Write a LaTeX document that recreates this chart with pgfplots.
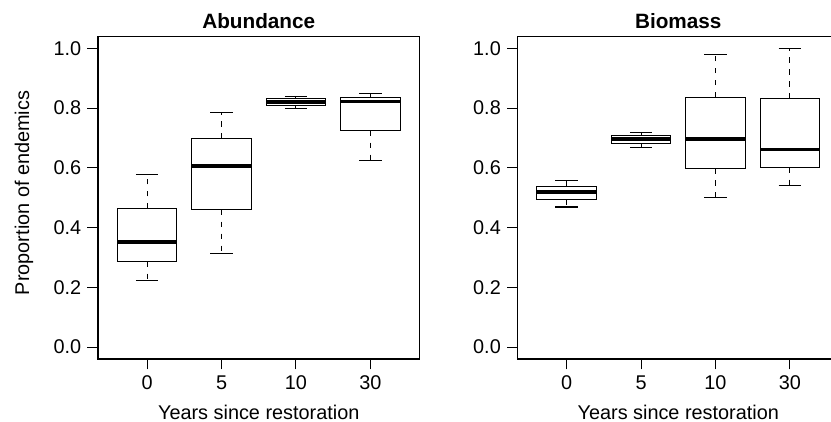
\documentclass[border=0pt]{standalone}
\usepackage{fontspec}
\setmainfont{Liberation Sans}
\usepackage{pgfplots}
\pgfplotsset{compat=1.18}
\usepgfplotslibrary{statistics}

% R-style boxplots: dashed whisker, solid staple
\pgfplotsset{
  boxplot/draw/whisker/.code 2 args={%
    \draw[line width=0.6pt, dash pattern=on 0.11cm off 0.13cm] (boxplot cs:#1) -- (boxplot cs:#2);
    \draw[line width=0.6pt] (boxplot whisker cs:#2,0) -- (boxplot whisker cs:#2,1);
  },
  endemics/.style={
    scale only axis, width=6.43cm, height=6.45cm, anchor=south west,
    xmin=0.34, xmax=4.66, ymin=-0.04, ymax=1.04,
    xtick={1,2,3,4}, xticklabels={0,5,10,30},
    ytick={0,0.2,0.4,0.6,0.8,1},
    yticklabel style={/pgf/number format/.cd, fixed, fixed zerofill, precision=1},
    /pgf/number format/assume math mode=true,
    tick align=outside, major tick length=0.21cm,
    xtick pos=left, ytick pos=left,
    axis line style={line width=0.6pt},
    tick style={black, line width=0.6pt},
    tick label style={font=\fontsize{11.3}{13}\selectfont},
    every axis title/.style={at={(axis description cs:0.5,1.0254)}, anchor=base,
      font=\bfseries\fontsize{11.8}{14}\selectfont},
    every axis x label/.style={at={(axis description cs:0.5,-0.189)}, anchor=base,
      font=\fontsize{11.3}{13}\selectfont},
    every axis y label/.style={at={(axis description cs:-0.2146,0.515)}, rotate=90, anchor=base,
      font=\fontsize{11.3}{13}\selectfont},
    xlabel={Years since restoration},
    boxplot/draw direction=y,
    boxplot/box extend=0.8,
    boxplot/whisker extend=0.3,
    boxplot/every box/.style={draw=black, fill=white, line width=0.6pt},
    boxplot/every median/.style={line width=2pt},
  },
}

\begin{document}
\begin{tikzpicture}
\path[use as bounding box] (0,0) rectangle (16.62,8.44);

\begin{axis}[endemics, at={(1.96cm,1.26cm)},
  title={Abundance}, ylabel={Proportion of endemics}]
\addplot[black, line width=0.6pt, boxplot prepared={draw position=1,
  lower whisker=0.222, lower quartile=0.286, median=0.351,
  upper quartile=0.464, upper whisker=0.577}] coordinates {};
\addplot[black, line width=0.6pt, boxplot prepared={draw position=2,
  lower whisker=0.313, lower quartile=0.460, median=0.606,
  upper quartile=0.697, upper whisker=0.786}] coordinates {};
\addplot[black, line width=0.6pt, boxplot prepared={draw position=3,
  lower whisker=0.798, lower quartile=0.809, median=0.820,
  upper quartile=0.831, upper whisker=0.840}] coordinates {};
\addplot[black, line width=0.6pt, boxplot prepared={draw position=4,
  lower whisker=0.626, lower quartile=0.725, median=0.823,
  upper quartile=0.836, upper whisker=0.849}] coordinates {};
\end{axis}

\begin{axis}[endemics, at={(10.35cm,1.26cm)},
  title={Biomass}]
\addplot[black, line width=0.6pt, boxplot prepared={draw position=1,
  lower whisker=0.469, lower quartile=0.494, median=0.520,
  upper quartile=0.539, upper whisker=0.558}] coordinates {};
\addplot[black, line width=0.6pt, boxplot prepared={draw position=2,
  lower whisker=0.667, lower quartile=0.681, median=0.697,
  upper quartile=0.708, upper whisker=0.719}] coordinates {};
\addplot[black, line width=0.6pt, boxplot prepared={draw position=3,
  lower whisker=0.501, lower quartile=0.598, median=0.696,
  upper quartile=0.837, upper whisker=0.979}] coordinates {};
\addplot[black, line width=0.6pt, boxplot prepared={draw position=4,
  lower whisker=0.540, lower quartile=0.601, median=0.661,
  upper quartile=0.831, upper whisker=1.000}] coordinates {};
\end{axis}
\end{tikzpicture}
\end{document}
